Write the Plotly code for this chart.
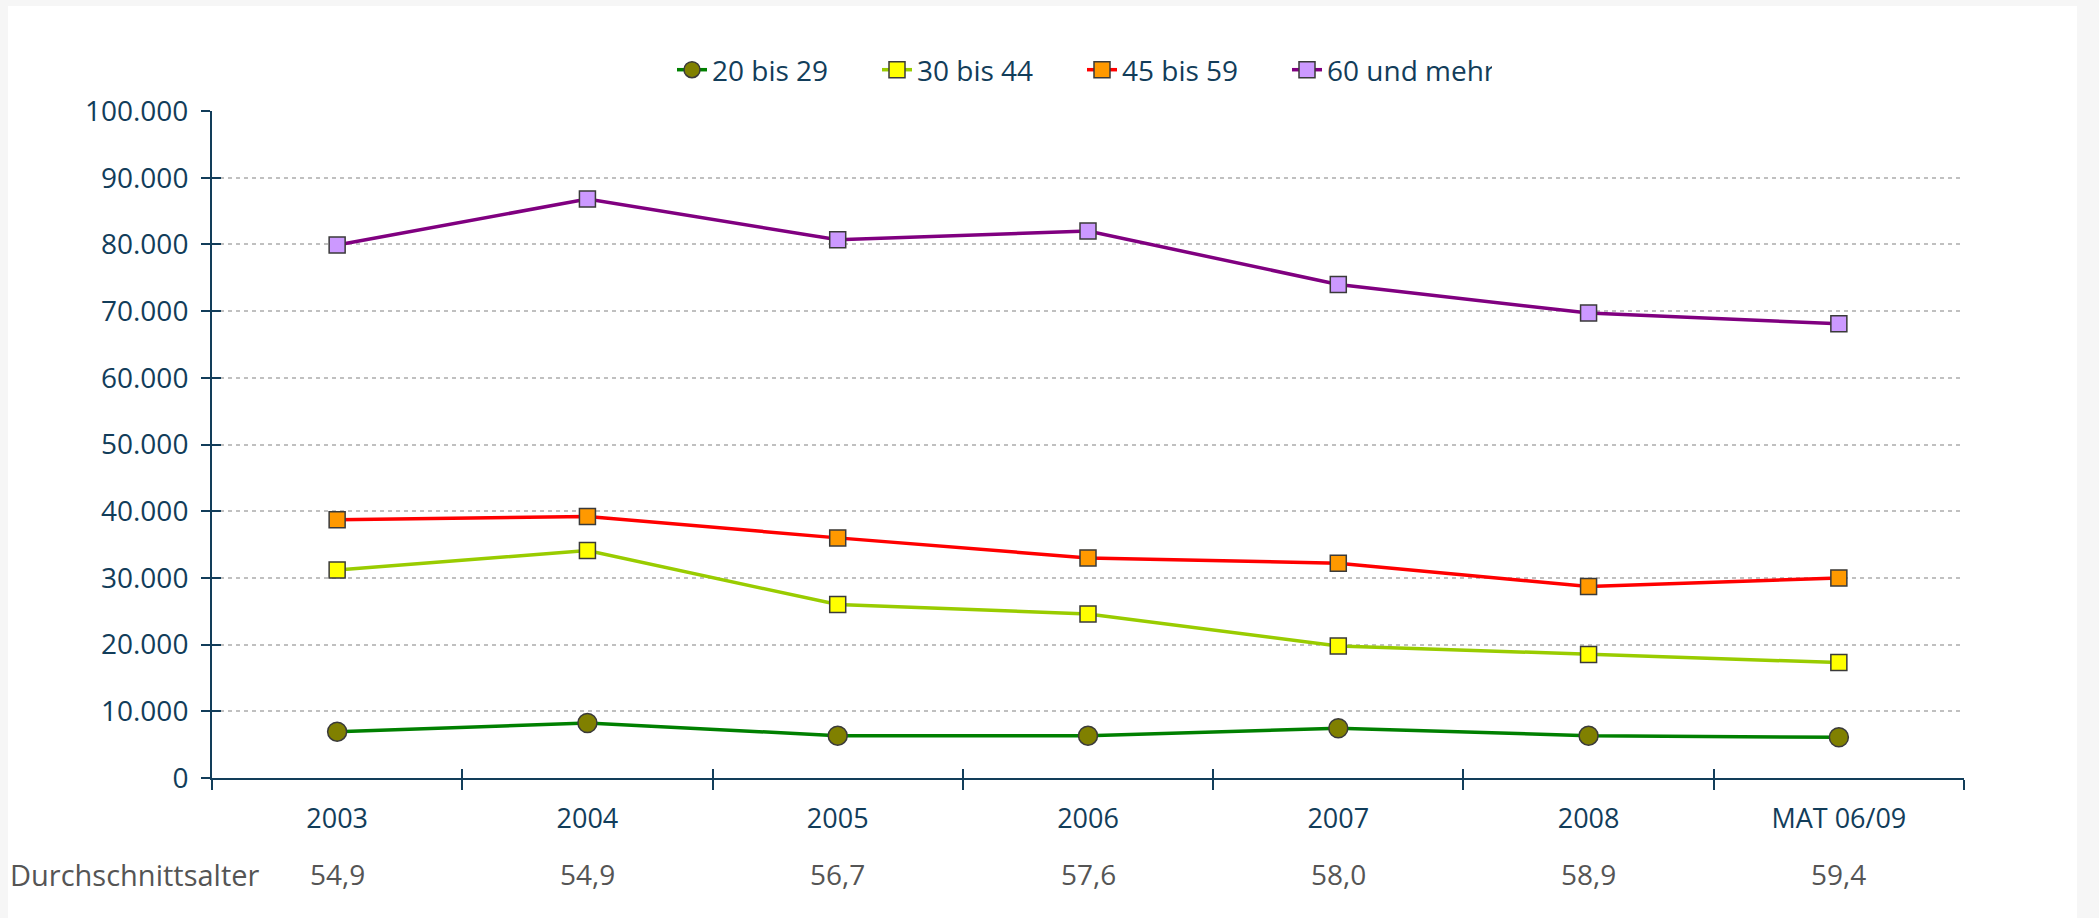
import plotly.graph_objects as go

categories = ["2003", "2004", "2005", "2006", "2007", "2008", "MAT 06/09"]
s20_29 = [6950, 8250, 6350, 6350, 7450, 6350, 6100]
s30_44 = [31200, 34100, 26000, 24600, 19800, 18500, 17300]
s45_59 = [38700, 39200, 36000, 33000, 32200, 28700, 30000]
s60_plus = [79900, 86800, 80700, 82000, 74000, 69700, 68100]
avg_age = ["54,9", "54,9", "56,7", "57,6", "58,0", "58,9", "59,4"]
avg_label = "Durchschnittsalter"
y_ticks = [0, 10000, 20000, 30000, 40000, 50000, 60000, 70000, 80000, 90000, 100000]
y_ticktext = ["0", "10.000", "20.000", "30.000", "40.000", "50.000", "60.000",
              "70.000", "80.000", "90.000", "100.000"]

FONT = "Open Sans"
NAVY = "#123d5a"
W, H = 2099, 918
L, R, T, B = 212, 135, 111, 140

series = [
    ("20 bis 29", s20_29, "#008000", "#808000", "circle", 19),
    ("30 bis 44", s30_44, "#99cc00", "#ffff00", "square", 16),
    ("45 bis 59", s45_59, "#ff0000", "#ff9900", "square", 16),
    ("60 und mehr", s60_plus, "#800080", "#cc99ff", "square", 16),
]

fig = go.Figure()
for name, vals, lc, mc, sym, sz in series:
    fig.add_trace(go.Scatter(
        x=categories, y=vals, name=name, mode="lines+markers",
        line=dict(color=lc, width=3.5),
        marker=dict(symbol=sym, size=sz, color=mc, line=dict(color="#3a3a3a", width=1.5)),
    ))

# invisible helper trace for the overlay axes (inside tick halves)
fig.add_trace(go.Scatter(x=categories, y=s20_29, xaxis="x2", yaxis="y2", mode="lines",
                         opacity=0, showlegend=False, hoverinfo="skip"))

pw = W - L - R
ph = H - T - B

fig.update_layout(
    width=W, height=H,
    margin=dict(l=L, r=R, t=T, b=B),
    paper_bgcolor="#f6f6f6",
    plot_bgcolor="white",
    font=dict(family=FONT, size=27, color=NAVY),
    showlegend=True,
    legend=dict(orientation="h", x=0.5 - 6 / pw, xanchor="center", y=1 + (T - 70) / ph,
                yanchor="middle", entrywidth=160,
                font=dict(family=FONT, size=28, color=NAVY), bgcolor="rgba(0,0,0,0)",
                itemsizing="trace", traceorder="normal"),
    xaxis=dict(type="category", categoryorder="array", categoryarray=categories,
               range=[-0.5, len(categories) - 0.5], tickson="boundaries",
               ticks="outside", ticklen=10, tickwidth=1.5, tickcolor=NAVY,
               showline=True, linecolor=NAVY, linewidth=2, showgrid=False, zeroline=False,
               tickfont=dict(family=FONT, size=27, color=NAVY), ticklabelstandoff=16),
    xaxis2=dict(type="category", categoryorder="array", categoryarray=categories,
                range=[-0.5, len(categories) - 0.5], tickson="boundaries", overlaying="x",
                anchor="y", side="bottom", ticks="inside", ticklen=9, tickwidth=1.5,
                tickcolor=NAVY, showticklabels=False, showline=False, showgrid=False,
                zeroline=False),
    yaxis=dict(range=[0, 100000], tickmode="array", tickvals=y_ticks, ticktext=y_ticktext,
               ticks="outside", ticklen=9, tickwidth=1.5, tickcolor=NAVY,
               showline=True, linecolor=NAVY, linewidth=2,
               showgrid=True, gridcolor="#c0c0c0", gridwidth=1.5, griddash="4px,4px",
               zeroline=False, tickfont=dict(family=FONT, size=28, color=NAVY),
               ticklabelstandoff=7),
    yaxis2=dict(range=[0, 100000], tickmode="array", tickvals=y_ticks, overlaying="y",
                anchor="x", side="left", ticks="inside", ticklen=9, tickwidth=1.5,
                tickcolor=NAVY, showticklabels=False, showline=False, showgrid=False,
                zeroline=False),
    shapes=[dict(type="rect", xref="paper", yref="paper", layer="below",
                 x0=(8 - L) / pw, x1=(2077 - L) / pw, y0=-B / ph - 0.01, y1=(T - 6) / ph + 1,
                 fillcolor="white", line=dict(width=0))],
)

row_y = -(874 - (H - B)) / ph
annotations = [dict(text=avg_label, xref="paper", yref="paper", x=(8 - L) / pw, y=row_y,
                    xanchor="left", yanchor="middle", showarrow=False,
                    font=dict(family=FONT, size=29, color="#555555"))]
for i, a in enumerate(avg_age):
    annotations.append(dict(text=a, xref="x", yref="paper", x=i, y=row_y,
                            xanchor="center", yanchor="middle", showarrow=False,
                            font=dict(family=FONT, size=28, color="#555555")))
fig.update_layout(annotations=annotations)

fig.write_html(
    "out.html",
    config={"displayModeBar": False},
    post_script="document.body.style.margin='0';document.body.style.background='#f6f6f6';document.body.style.overflow='hidden';",
)
